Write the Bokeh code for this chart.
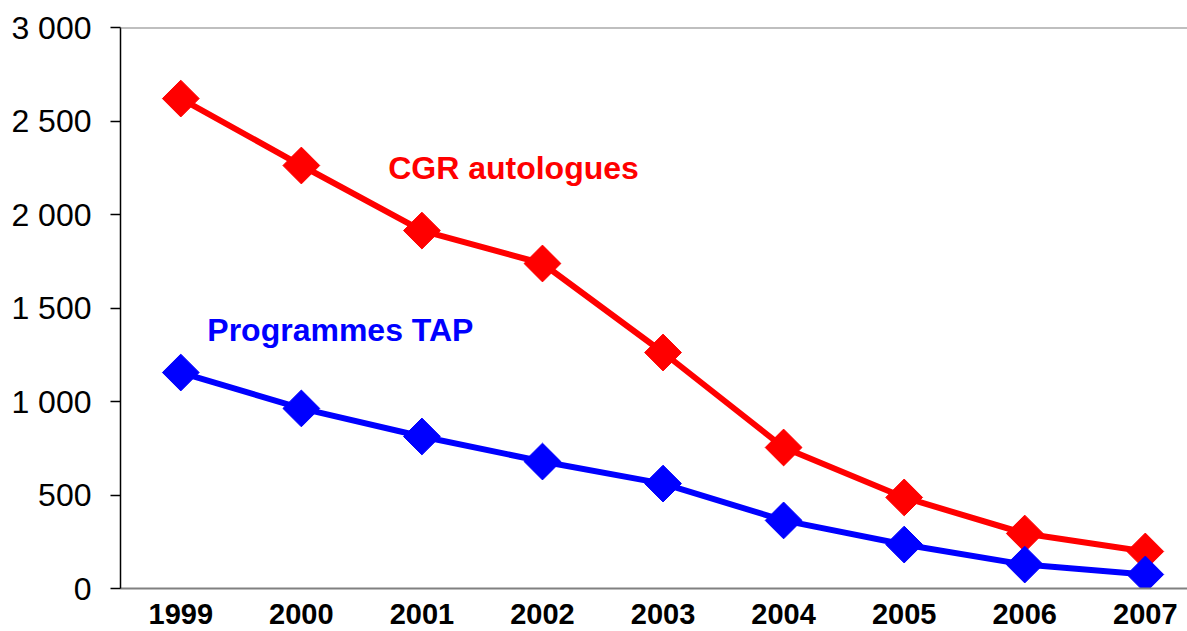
from bokeh.plotting import figure
from bokeh.models import FixedTicker, Span, Range1d, Label
from bokeh.embed import file_html
from bokeh.resources import INLINE
import math

years = ["1999", "2000", "2001", "2002", "2003", "2004", "2005", "2006", "2007"]
cgr_autologues = [2620, 2262, 1914, 1738, 1262, 754, 487, 294, 198]
programmes_tap = [1155, 963, 813, 679, 561, 364, 235, 128, 75]
y_ticks = [0, 500, 1000, 1500, 2000, 2500, 3000]
y_tick_labels = ["0", "500", "1 000", "1 500", "2 000", "2 500", "3 000"]

xs = list(range(len(years)))

p = figure(width=1187, height=631, output_backend="svg", toolbar_location=None,
           x_range=Range1d(-0.5, 8.35), y_range=Range1d(0, 3000),
           min_border_left=120, min_border_top=27, min_border_bottom=43, min_border_right=0)
p.outline_line_color = None
p.grid.visible = False
p.background_fill_color = "white"
p.border_fill_color = "white"

font = "Liberation Sans"

# y axis
p.yaxis.ticker = FixedTicker(ticks=y_ticks)
p.yaxis.major_label_overrides = {t: l for t, l in zip(y_ticks, y_tick_labels)}
p.yaxis.axis_line_color = "black"
p.yaxis.axis_line_width = 1.5
p.yaxis.major_tick_line_color = "black"
p.yaxis.major_tick_line_width = 1.5
p.yaxis.major_tick_out = 10
p.yaxis.major_tick_in = 0
p.yaxis.minor_tick_line_color = None
p.yaxis.major_label_text_font = font
p.yaxis.major_label_text_font_size = "32px"
p.yaxis.major_label_text_color = "black"
p.yaxis.major_label_standoff = 19

# x axis
p.xaxis.ticker = FixedTicker(ticks=xs)
p.xaxis.major_label_overrides = {i: y for i, y in zip(xs, years)}
p.xaxis.axis_line_color = "#808080"
p.xaxis.axis_line_width = 2
p.xaxis.major_tick_line_color = None
p.xaxis.minor_tick_line_color = None
p.xaxis.major_label_text_font = font
p.xaxis.major_label_text_font_style = "bold"
p.xaxis.major_label_text_font_size = "29px"
p.xaxis.major_label_text_color = "black"
p.xaxis.major_label_standoff = 9

# top border line
p.add_layout(Span(location=3000, dimension="width", line_color="#808080", line_width=2))

# series
p.line(xs, cgr_autologues, line_color="#FF0000", line_width=6)
p.scatter(xs, cgr_autologues, marker="square", size=26, angle=math.pi / 4,
          fill_color="#FF0000", line_color="#FF0000")
p.line(xs, programmes_tap, line_color="#0000FF", line_width=6)
p.scatter(xs, programmes_tap, marker="square", size=26, angle=math.pi / 4,
          fill_color="#0000FF", line_color="#0000FF")

p.add_layout(Label(x=1.72, y=2246, text="CGR autologues", text_color="#FF0000",
                   text_font=font, text_font_style="bold", text_font_size="32px",
                   text_baseline="middle", text_align="left"))
p.add_layout(Label(x=0.22, y=1380, text="Programmes TAP", text_color="#0000FF",
                   text_font=font, text_font_style="bold", text_font_size="32px",
                   text_baseline="middle", text_align="left"))

open("out.html", "w").write(file_html(p, INLINE))
